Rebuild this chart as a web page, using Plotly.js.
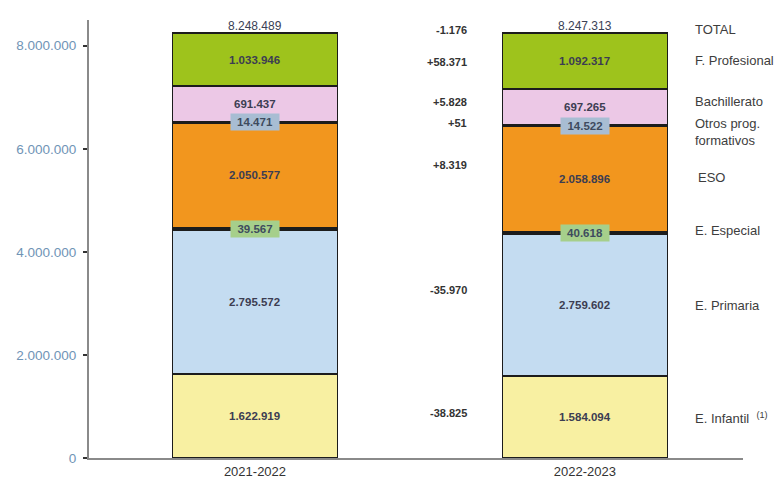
<!DOCTYPE html>
<html>
<head>
<meta charset="utf-8">
<script src="https://cdn.plot.ly/plotly-3.0.1.min.js"></script>
<style>
  html, body { margin: 0; padding: 0; background: #fff; }
  #chart { width: 781px; height: 481px; }
</style>
</head>
<body>
<div id="chart"></div>
<script>
// School years and enrolment by level (bottom to top of the stack)
const years = ['2021-2022', '2022-2023'];
const levels = ['E. Infantil', 'E. Primaria', 'E. Especial', 'ESO', 'Otros prog. formativos', 'Bachillerato', 'F. Profesional'];
const infantil = [1622919, 1584094];
const primaria = [2795572, 2759602];
const especial = [39567, 40618];
const eso = [2050577, 2058896];
const otros = [14471, 14522];
const bachillerato = [691437, 697265];
const fp = [1033946, 1092317];
const totals = [8248489, 8247313];
const diffs = ['-38.825', '-35.970', '+8.319', '+51', '+5.828', '+58.371', '-1.176'];
const rightLabels = ['E. Infantil  <sup>(1)</sup>', 'E. Primaria', 'E. Especial', 'ESO',
                     'Otros prog.<br>formativos', 'Bachillerato', 'F. Profesional', 'TOTAL'];
const yTicks = [0, 2000000, 4000000, 6000000, 8000000];

// Layout-only settings
const series = [infantil, primaria, especial, eso, otros, bachillerato, fp];
const fills = ['#f8f0a2', '#c4dcf1', '#1c1c1c', '#f2961e', '#1c1c1c', '#ecc8e6', '#9ec31c'];
const thin = [false, false, true, false, true, false, false];
const boxColors = {2: '#a6cf8b', 4: '#a8bdd3'};
const diffY = [874000, 3260000, 5690000, 6500000, 6910000, 7690000, 8310000];
const rightY = [777000, 2950000, 4410000, 5440000, 6330000, 6910000, 7710000, 8310000];
const rightX = [1.326, 1.326, 1.326, 1.338, 1.326, 1.326, 1.326, 1.326];
const FONT = 'Liberation Sans, Arial, sans-serif';

function fmt(n) {
  return String(n).replace(/\B(?=(\d{3})+(?!\d))/g, '.');
}

const traces = series.map((vals, i) => ({
  type: 'bar',
  name: levels[i],
  x: years,
  y: vals,
  width: 0.5,
  marker: { color: fills[i], line: { color: '#1c1c1c', width: 1.8 } },
  hoverinfo: 'skip',
  showlegend: false
}));

const annotations = [];
years.forEach((yr, j) => {
  let base = 0;
  series.forEach((vals, i) => {
    const mid = base + vals[j] / 2;
    const a = {
      x: yr, y: mid, xref: 'x', yref: 'y', showarrow: false,
      text: '<b>' + fmt(vals[j]) + '</b>',
      font: { family: FONT, size: 11.5, color: '#3c3d52' }
    };
    if (thin[i]) {
      a.bgcolor = boxColors[i];
      a.borderpad = 2;
      a.width = 44;
      a.font = { family: FONT, size: 11.5, color: '#3e4b5e' };
    }
    annotations.push(a);
    base += vals[j];
  });
  annotations.push({
    x: yr, y: totals[j], xref: 'x', yref: 'y', showarrow: false,
    yanchor: 'bottom', yshift: -2,
    text: fmt(totals[j]),
    font: { family: FONT, size: 12, color: '#3a4155' }
  });
});

diffs.forEach((d, i) => {
  annotations.push({
    x: 0.65, y: diffY[i], xref: 'x', yref: 'y', showarrow: false,
    xanchor: 'right',
    text: '<b>' + d + '</b>',
    font: { family: FONT, size: 11, color: '#333' }
  });
});

rightLabels.forEach((t, i) => {
  annotations.push({
    x: rightX[i], y: rightY[i], xref: 'x', yref: 'y', showarrow: false,
    xanchor: 'left', align: 'left',
    text: t,
    font: { family: FONT, size: 13, color: '#3d3d3d' }
  });
});

const layout = {
  width: 781,
  height: 481,
  margin: { l: 89, r: 38, t: 20, b: 23 },
  paper_bgcolor: '#fff',
  plot_bgcolor: '#fff',
  barmode: 'stack',
  separators: ',.',
  showlegend: false,
  xaxis: {
    type: 'category',
    range: [-0.503, 1.479],
    showline: true, linecolor: '#8a8a8a', linewidth: 2,
    ticks: '', showgrid: false, zeroline: false,
    tickfont: { family: FONT, size: 13, color: '#333' }
  },
  yaxis: {
    range: [0, 8500000],
    tickvals: yTicks,
    ticktext: yTicks.map(fmt),
    showline: true, linecolor: '#8a8a8a', linewidth: 2,
    ticks: 'outside', ticklen: 4, tickcolor: '#333', tickwidth: 1.5,
    ticklabelstandoff: 4,
    showgrid: false, zeroline: false,
    tickfont: { family: FONT, size: 13.5, color: '#7094b6' }
  },
  annotations: annotations
};

Plotly.newPlot('chart', traces, layout, { displayModeBar: false, staticPlot: true });
</script>
</body>
</html>
